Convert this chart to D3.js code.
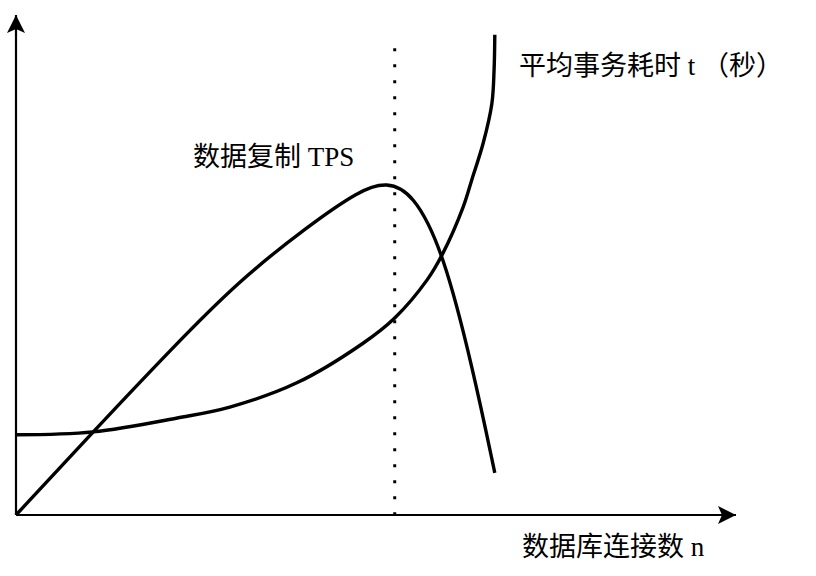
<!DOCTYPE html>
<html>
<head>
<meta charset="utf-8">
<script src="https://cdn.jsdelivr.net/npm/d3@7"></script>
<style>
    body { margin: 0; background: #fff; }
    text { font-family: "Liberation Serif", "Noto Sans CJK SC", serif; fill: #000; }
</style>
</head>
<body>
<div id="chart"></div>
<script>
// connections n (0-100) vs. value (0-100)
let tpsN = [0, 10.7, 21.8, 31.1, 40.4, 47.8, 51.5, 55.1, 59.3, 63.5, 66.5];
let tpsV = [0, 16.8, 33.9, 47.5, 58.2, 65.7, 67.3, 65.1, 53.5, 29.3, 8.5];

let timeN = [0, 10.7, 22.4, 29.7, 39.0, 48.2, 52.6, 57.1, 59.3, 62.1, 63.3, 64.9, 66.1, 66.4, 66.5];
let timeV = [16.2, 16.8, 19.6, 21.8, 26.7, 34.7, 39.8, 47.5, 52.9, 62.2, 67.7, 75.2, 83.2, 89.9, 97.0];

let optimalN = 52.6; // dotted marker
let labels = {
    time: '平均事务耗时 t （秒）',
    tps: '数据复制 TPS',
    xAxis: '数据库连接数 n'
};

let width = 816,
    height = 576;

let x = d3.scaleLinear().domain([0, 100]).range([16, 736]);
let y = d3.scaleLinear().domain([0, 100]).range([515, 20]);

let svg = d3.select('#chart')
    .append('svg')
    .attr('width', width)
    .attr('height', height);

// arrow heads
let defs = svg.append('defs');
defs.append('marker')
    .attr('id', 'arrow')
    .attr('viewBox', '0 0 20 20')
    .attr('refX', 18)
    .attr('refY', 10)
    .attr('markerWidth', 20)
    .attr('markerHeight', 20)
    .attr('markerUnits', 'userSpaceOnUse')
    .attr('orient', 'auto')
    .append('path')
    .attr('d', 'M0,1 L18,10 L0,19 L4,10 Z')
    .attr('fill', '#000');

// axes
svg.append('line')
    .attr('x1', x(0)).attr('y1', y(0))
    .attr('x2', x(0)).attr('y2', y(0) - 500)
    .attr('stroke', '#000').attr('stroke-width', 2.2)
    .attr('marker-end', 'url(#arrow)');

svg.append('line')
    .attr('x1', x(0)).attr('y1', y(0))
    .attr('x2', x(100)).attr('y2', y(0))
    .attr('stroke', '#000').attr('stroke-width', 2.2)
    .attr('marker-end', 'url(#arrow)');

// dotted vertical line
svg.append('line')
    .attr('x1', x(optimalN)).attr('y1', y(94.3))
    .attr('x2', x(optimalN)).attr('y2', y(0))
    .attr('stroke', '#000').attr('stroke-width', 3)
    .attr('stroke-dasharray', '3,13');

// b-spline smooths the hand drawn tps hump
let tpsLine = d3.line()
    .x(d => x(d[0]))
    .y(d => y(d[1]))
    .curve(d3.curveBasis);

let timeLine = d3.line()
    .x(d => x(d[0]))
    .y(d => y(d[1]))
    .curve(d3.curveCatmullRom.alpha(0.5));

svg.append('path')
    .datum(d3.zip(tpsN, tpsV))
    .attr('d', tpsLine)
    .attr('fill', 'none')
    .attr('stroke', '#000')
    .attr('stroke-width', 3.4);

svg.append('path')
    .datum(d3.zip(timeN, timeV))
    .attr('d', timeLine)
    .attr('fill', 'none')
    .attr('stroke', '#000')
    .attr('stroke-width', 3.4);

// labels
svg.append('text')
    .attr('x', 519).attr('y', 75)
    .style('font-size', '27px')
    .text(labels.time);

svg.append('text')
    .attr('x', 193).attr('y', 166)
    .style('font-size', '27px')
    .text(labels.tps);

svg.append('text')
    .attr('x', 522).attr('y', 556)
    .style('font-size', '27px')
    .text(labels.xAxis);
</script>
</body>
</html>
